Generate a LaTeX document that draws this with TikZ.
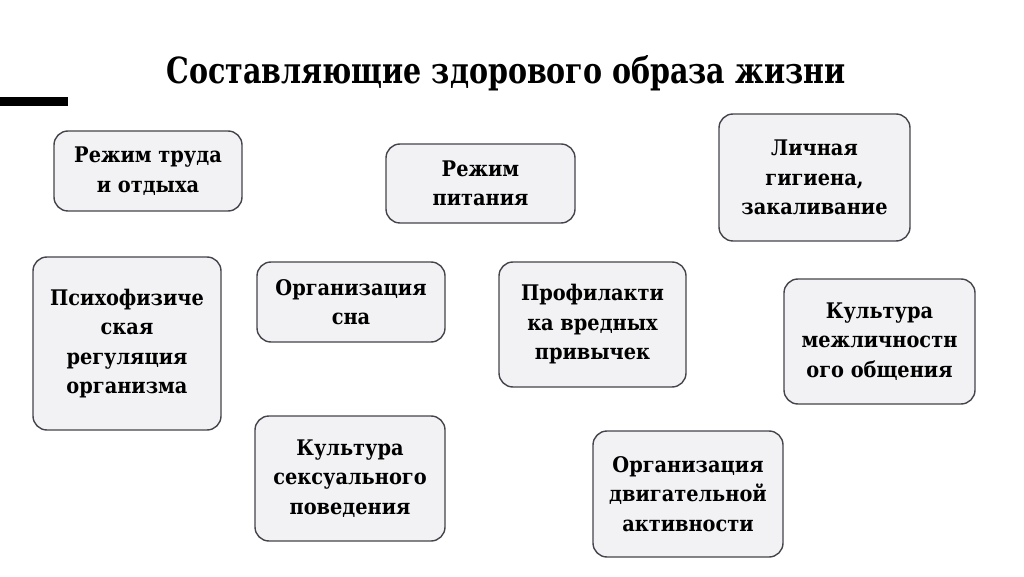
\documentclass[tikz,border=0pt]{standalone}
\usepackage{fontspec}
\setmainfont{DejaVu Serif Condensed}
\usepackage{tikz}
\usetikzlibrary{positioning}
\definecolor{boxfill}{HTML}{F2F2F4}
\definecolor{boxline}{HTML}{44444C}
\tikzstyle{item} = [rectangle, rounded corners=14pt, draw=boxline, line width=1.4pt, fill=boxfill, align=center, font=\fontsize{21.5}{29.5}\selectfont\bfseries, inner sep=0pt]

\begin{document}
\begin{tikzpicture}[x=1pt, y=1pt]
    \useasboundingbox (0,0) rectangle (1024,576);
    \fill[white] (0,0) rectangle (1024,576);

    % title and bar
    \node (title) at (506,503) {\fontsize{36}{40}\selectfont\bfseries\scalebox{0.88}[1]{Составляющие здорового образа жизни}};
    \fill[black] (0,470) rectangle (68,479);

    % boxes
    \node[item, minimum width=188, minimum height=80] (trud) at (148,405) {Режим труда\\и отдыха};
    \node[item, minimum width=189, minimum height=79] (pitanie) at (480.5,392.5) {Режим\\питания};
    \node[item, minimum width=191, minimum height=127] (gigiena) at (814.5,398.5) {Личная\\гигиена,\\закаливание};
    \node[item, minimum width=188, minimum height=173] (psiho) at (127,232.5) {Психофизиче\\ская\\регуляция\\организма};
    \node[item, minimum width=188, minimum height=80] (son) at (351,274) {Организация\\сна};
    \node[item, minimum width=187, minimum height=125] (profil) at (592.5,251.5) {Профилакти\\ка вредных\\привычек};
    \node[item, minimum width=191, minimum height=125] (obshch) at (879.5,234.5) {Культура\\межличностн\\ого общения};
    \node[item, minimum width=190, minimum height=125] (seks) at (350,97.5) {Культура\\сексуального\\поведения};
    \node[item, minimum width=190, minimum height=126] (dvig) at (688,82) {Организация\\двигательной\\активности};
\end{tikzpicture}
\end{document}
